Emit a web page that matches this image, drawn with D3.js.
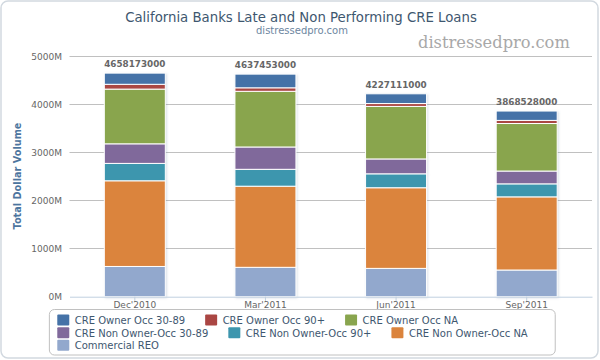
<!DOCTYPE html>
<html><head><meta charset="utf-8">
<script src="https://cdn.jsdelivr.net/npm/d3@7"></script>
<style>body{margin:0;background:#fff}svg{display:block}</style>
</head><body><svg id="c" width="600" height="360"></svg>
<script>
// ---- data (values in millions of dollars) ----
const categories = ["Dec'2010", "Mar'2011", "Jun'2011", "Sep'2011"];
const seriesNames = ["CRE Owner Occ 30-89", "CRE Owner Occ 90+", "CRE Owner Occ NA",
  "CRE Non Owner-Occ 30-89", "CRE Non Owner-Occ 90+", "CRE Non Owner-Occ NA", "Commercial REO"];
const ownerOcc3089    = [233, 285, 203, 195];
const ownerOcc90      = [100, 73, 60, 65];
const ownerOccNA      = [1140, 1160, 1094, 990];
const nonOwnerOcc3089 = [408, 465, 310, 267];
const nonOwnerOcc90   = [362, 352, 290, 271];
const nonOwnerOccNA   = [1785, 1690, 1680, 1524];
const commercialREO   = [630, 612, 590, 556];
const stackTotalLabels = ["4658173000", "4637453000", "4227111000", "3868528000"];
const yTicks = [0, 1000, 2000, 3000, 4000, 5000];
const colors = ['#4572A7', '#AA4643', '#89A54E', '#80699B', '#3D96AE', '#DB843D', '#92A8CD'];

const seriesValues = [ownerOcc3089, ownerOcc90, ownerOccNA, nonOwnerOcc3089, nonOwnerOcc90, nonOwnerOccNA, commercialREO];
const table = categories.map((c, i) => {
  const row = {cat: c};
  seriesNames.forEach((n, k) => row[n] = seriesValues[k][i]);
  return row;
});

const svg = d3.select('#c');
const FONT = "'DejaVu Sans', sans-serif";

const defs = svg.append('defs');
const f = defs.append('filter').attr('id', 'shadow').attr('x', '-20%').attr('y', '-5%').attr('width', '140%').attr('height', '110%');
f.append('feDropShadow').attr('dx', 1).attr('dy', 1).attr('stdDeviation', 1)
  .attr('flood-color', '#6080a0').attr('flood-opacity', 0.25);

// chart frame
svg.append('rect').attr('x', 1).attr('y', 1).attr('width', 597).attr('height', 357)
  .attr('rx', 7).attr('fill', '#fff').attr('stroke', '#d2d9e0').attr('stroke-width', 1.5);

function fitWidth(sel, target) {
  const w = sel.node().getComputedTextLength();
  const fs = parseFloat(sel.attr('font-size'));
  sel.attr('font-size', fs * target / w);
}

// titles
const title = svg.append('text').attr('x', 301).attr('y', 21.7).attr('text-anchor', 'middle')
  .attr('font-family', FONT).attr('font-size', 14).attr('fill', '#3E576F')
  .text('California Banks Late and Non Performing CRE Loans');
fitWidth(title, 352);
svg.append('text').attr('x', 302).attr('y', 33.8).attr('text-anchor', 'middle')
  .attr('font-family', FONT).attr('font-size', 10).attr('fill', '#6D869F')
  .text('distressedpro.com');
const wm = svg.append('text').attr('x', 418).attr('y', 48).attr('text-anchor', 'start')
  .attr('font-family', "'DejaVu Serif', serif").attr('font-size', 16).attr('fill', '#a8a8a8')
  .text('distressedpro.com');
fitWidth(wm, 152);

// scales
const x = d3.scaleBand().domain(categories).range([69.5, 592]).paddingInner(0.533).paddingOuter(0.2665);
const y = d3.scaleLinear().domain([0, 5000]).range([296.7, 56.7]);

// gridlines
svg.append('g').selectAll('line').data(yTicks.filter(d => d > 0)).join('line')
  .attr('x1', 69.5).attr('x2', 592)
  .attr('y1', d => Math.floor(y(d)) + 0.5).attr('y2', d => Math.floor(y(d)) + 0.5)
  .attr('stroke', '#C0C0C0').attr('stroke-width', 1);

// y axis labels
const yAxis = svg.append('g').attr('transform', 'translate(62,0)')
  .call(d3.axisLeft(y).tickValues(yTicks).tickFormat(d => d + 'M').tickSize(0).tickPadding(0));
yAxis.select('.domain').remove();
yAxis.selectAll('text').attr('font-family', FONT).attr('font-size', 9).attr('fill', '#666').attr('dy', '0.35em');

// y axis title
const yt = svg.append('text').attr('transform', 'translate(20.5,176) rotate(-90)')
  .attr('text-anchor', 'middle').attr('font-family', FONT).attr('font-weight', 'bold')
  .attr('font-size', 10).attr('fill', '#4D759E').text('Total Dollar Volume');
fitWidth(yt, 107);

// stacked bars (bottom to top: last series first)
const keys = seriesNames.slice().reverse();
const stack = d3.stack().keys(keys)(table);
const colorOf = n => colors[seriesNames.indexOf(n)];
svg.append('g').attr('filter', 'url(#shadow)').selectAll('g').data(stack).join('g')
  .attr('fill', s => colorOf(s.key))
  .selectAll('rect').data(s => s).join('rect')
  .attr('x', d => x(d.data.cat)).attr('width', x.bandwidth())
  .attr('y', d => y(d[1])).attr('height', d => y(d[0]) - y(d[1]))
  .attr('stroke', '#fff').attr('stroke-width', 1);

// x axis
const xAxis = svg.append('g').attr('transform', 'translate(0,296.7)')
  .call(d3.axisBottom(x).tickSize(5).tickSizeOuter(0));
xAxis.select('.domain').attr('stroke', '#C0D0E0');
xAxis.selectAll('line').attr('stroke', '#C0D0E0');
xAxis.selectAll('text').attr('font-family', FONT).attr('font-size', 9).attr('fill', '#666')
  .attr('y', 4.6).attr('dy', '0.71em');

// stack totals
const topLayer = stack[stack.length - 1];
svg.append('g').selectAll('text').data(topLayer).join('text')
  .attr('x', d => x(d.data.cat) + x.bandwidth() / 2).attr('y', d => y(d[1]) - 6)
  .attr('text-anchor', 'middle').attr('font-family', FONT).attr('font-weight', 'bold')
  .attr('font-size', 8.8).attr('fill', '#666')
  .text((d, i) => stackTotalLabels[i]);

// legend (flowing layout like Highcharts)
const legend = svg.append('g');
const rowBase = [324, 336.7, 349.3];
const maxRight = 550;
let cx = 0, row = 0;
const rowEnds = [];
const items = [];
seriesNames.forEach((n, i) => {
  const t = legend.append('text').attr('font-family', FONT).attr('font-size', 10)
    .attr('fill', '#3E576F').text(n);
  const w = t.node().getComputedTextLength();
  const itemW = 17.5 + w;
  if (cx > 0 && 54.6 + cx + itemW > maxRight) { rowEnds.push(cx - 20); cx = 0; row++; }
  items.push({t, i, x: cx, row, w});
  cx += itemW + 20;
});
rowEnds.push(cx - 20);
const contentW = d3.max(rowEnds);
const boxW = contentW + 8.4 + 27;
const boxX = 301.8 - boxW / 2;
legend.insert('rect', ':first-child').attr('x', boxX + 0.5).attr('y', 309.5)
  .attr('width', boxW).attr('height', 45.5).attr('rx', 5)
  .attr('fill', 'none').attr('stroke', '#c0c0c0').attr('stroke-width', 1);
items.forEach(it => {
  const sx = boxX + 8.4 + it.x;
  legend.append('rect').attr('x', sx).attr('y', rowBase[it.row] - 9.5)
    .attr('width', 12).attr('height', 11).attr('rx', 1).attr('fill', colors[it.i]);
  it.t.attr('x', sx + 17.5).attr('y', rowBase[it.row]);
});
</script></body></html>
